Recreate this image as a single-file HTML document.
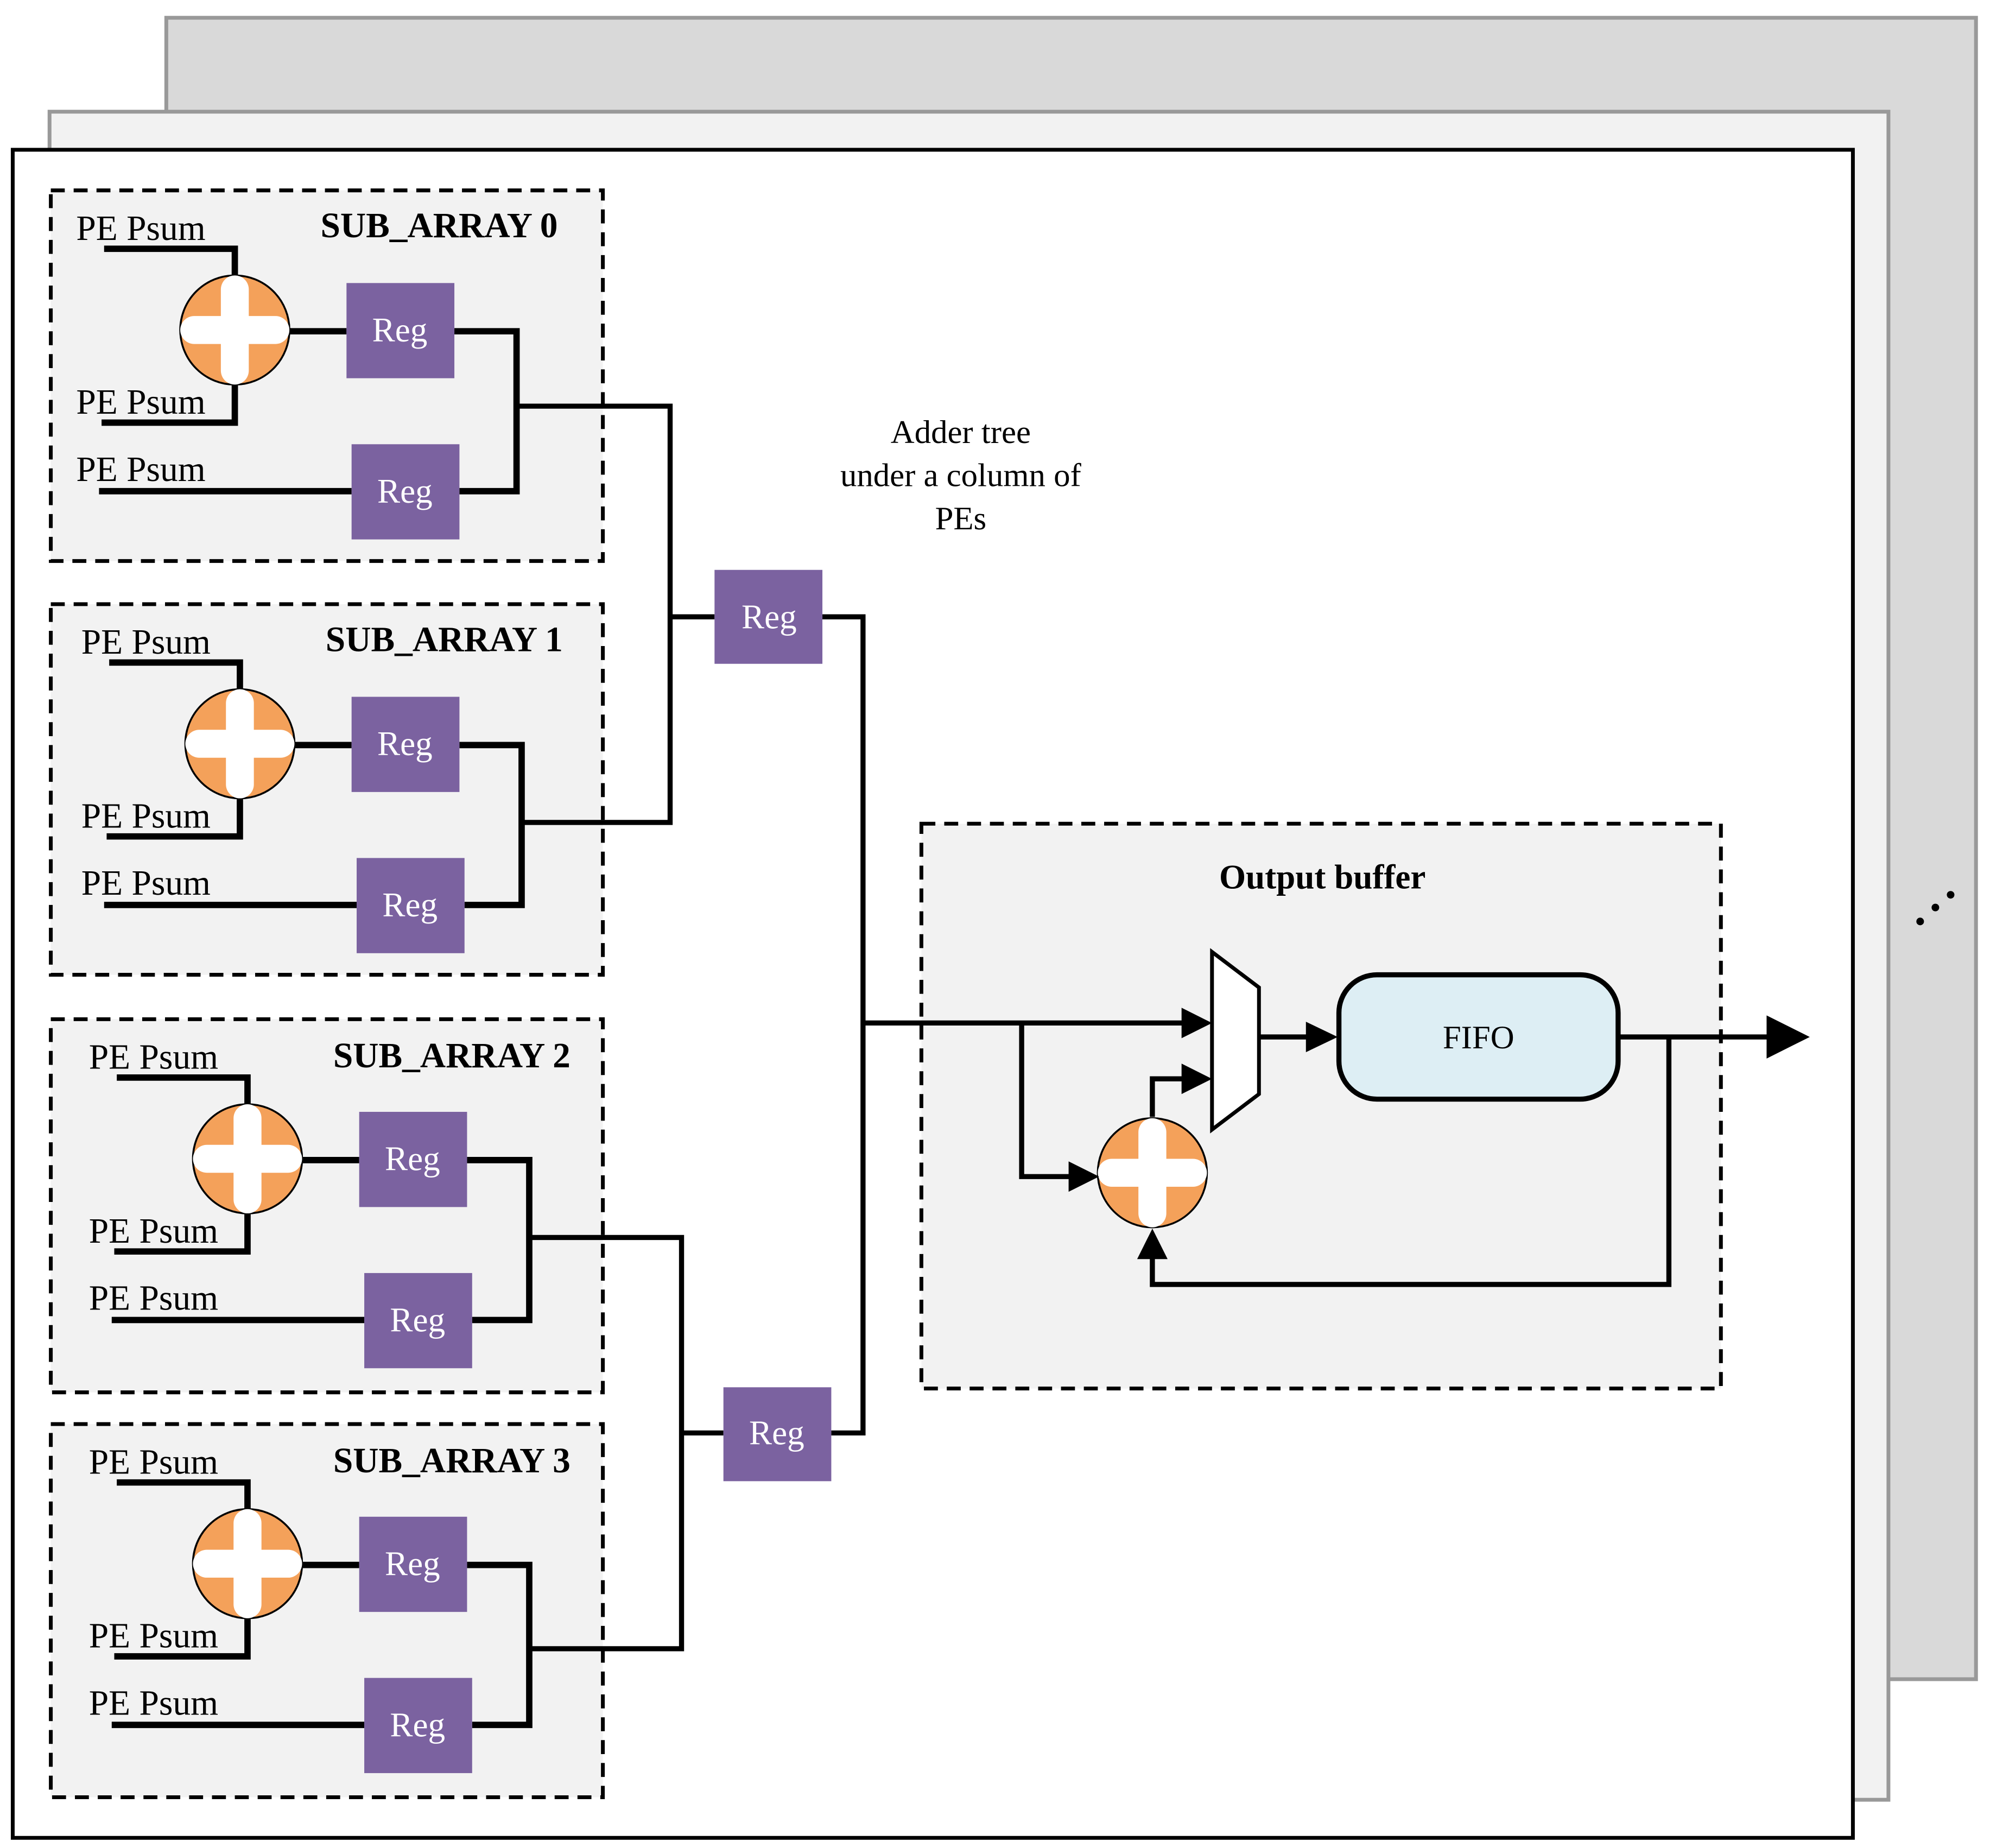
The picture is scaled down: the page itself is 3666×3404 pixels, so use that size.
<!DOCTYPE html>
<html><head><meta charset="utf-8"><style>html,body{margin:0;padding:0;background:#fff}svg{display:block}</style></head>
<body>
<svg width="3666" height="3404" viewBox="0 0 1568 1456" xmlns="http://www.w3.org/2000/svg" font-family="'Liberation Serif',serif">
<defs>
<g id="add">
<circle cx="0" cy="0" r="43" fill="#f4a15a" stroke="#000" stroke-width="1.5"/>
<rect x="-11" y="-43" width="22" height="86" rx="11" fill="#fff"/>
<rect x="-43" y="-11" width="86" height="22" rx="11" fill="#fff"/>
</g>
<g id="sub">
<g fill="none" stroke="#000" stroke-width="5" stroke-linejoin="miter">
<polyline points="82,196 185,196 185,217"/>
<polyline points="80,333 185,333 185,303"/>
<line x1="78" y1="387" x2="277" y2="387"/>
<line x1="228" y1="261" x2="273" y2="261"/>
<polyline points="358,261 407,261 407,387 362,387"/>
</g>
<use href="#add" x="185" y="260"/>
<rect x="273" y="223" width="85" height="75" fill="#7b62a0"/>
<rect x="277" y="350" width="85" height="75" fill="#7b62a0"/>
<text x="315" y="269" font-size="27" fill="#fff" text-anchor="middle">Reg</text>
<text x="319" y="396" font-size="27" fill="#fff" text-anchor="middle">Reg</text>
<g font-size="28" fill="#000">
<text x="60" y="189">PE Psum</text>
<text x="60" y="326">PE Psum</text>
<text x="60" y="379">PE Psum</text>
</g>
</g>
</defs>
<rect x="131" y="14" width="1426" height="1309" fill="#d9d9d9" stroke="#999" stroke-width="3"/>
<rect x="39" y="88" width="1449" height="1330" fill="#f2f2f2" stroke="#999" stroke-width="3"/>
<rect x="10" y="118" width="1450" height="1330" fill="#fff" stroke="#000" stroke-width="3"/>
<g fill="#f2f2f2" stroke="#000" stroke-width="3" stroke-dasharray="11,7">
<rect x="40" y="150" width="435" height="292"/>
<rect x="40" y="476" width="435" height="292"/>
<rect x="40" y="803" width="435" height="294"/>
<rect x="40" y="1122" width="435" height="294"/>
<rect x="726" y="649" width="630" height="445"/>
</g>
<use href="#sub"/>
<use href="#sub" x="4" y="326"/>
<use href="#sub" x="10" y="653"/>
<use href="#sub" x="10" y="972"/>
<g font-size="28" font-weight="bold" text-anchor="middle">
<text x="346" y="187">SUB_ARRAY 0</text>
<text x="350" y="513">SUB_ARRAY 1</text>
<text x="356" y="841">SUB_ARRAY 2</text>
<text x="356" y="1160">SUB_ARRAY 3</text>
<text x="1042" y="700" font-size="27">Output buffer</text>
</g>
<g font-size="26" text-anchor="middle">
<text x="757" y="349">Adder tree</text>
<text x="757" y="383">under a column of</text>
<text x="757" y="417">PEs</text>
</g>
<g fill="none" stroke="#000" stroke-width="4">
<polyline points="407,320 528,320 528,648 411,648"/>
<line x1="528" y1="486" x2="563" y2="486"/>
<polyline points="648,486 680,486 680,1129 655,1129"/>
<polyline points="417,975 537,975 537,1299 417,1299"/>
<line x1="537" y1="1129" x2="570" y2="1129"/>
<line x1="680" y1="806" x2="935" y2="806"/>
<polyline points="805,806 805,927 845,927"/>
<polyline points="908,880 908,850 935,850"/>
<line x1="992" y1="817" x2="1035" y2="817"/>
<line x1="1275" y1="817" x2="1395" y2="817"/>
<polyline points="1315,817 1315,1012 908,1012 908,990"/>
</g>
<rect x="563" y="449" width="85" height="74" fill="#7b62a0"/>
<rect x="570" y="1093" width="85" height="74" fill="#7b62a0"/>
<text x="606" y="495" font-size="27" fill="#fff" text-anchor="middle">Reg</text>
<text x="612" y="1138" font-size="27" fill="#fff" text-anchor="middle">Reg</text>
<polygon points="955,750 992,778 992,862 955,890" fill="#fff" stroke="#000" stroke-width="3"/>
<rect x="1055" y="768" width="220" height="98" rx="30" fill="#ddeef4" stroke="#000" stroke-width="4"/>
<text x="1165" y="826" font-size="26" text-anchor="middle">FIFO</text>
<use href="#add" x="908" y="924"/>
<g fill="#000">
<polygon points="931,794 955,806 931,818"/>
<polygon points="931,838 955,850 931,862"/>
<polygon points="1029,805 1054,817 1029,829"/>
<polygon points="842,915 866,927 842,939"/>
<polygon points="896,992 908,968 920,992"/>
<polygon points="1392,800 1426,817 1392,834"/>
<circle cx="1537" cy="705" r="3"/>
<circle cx="1525" cy="715" r="3"/>
<circle cx="1513" cy="726" r="3"/>
</g>
</svg>
</body></html>
